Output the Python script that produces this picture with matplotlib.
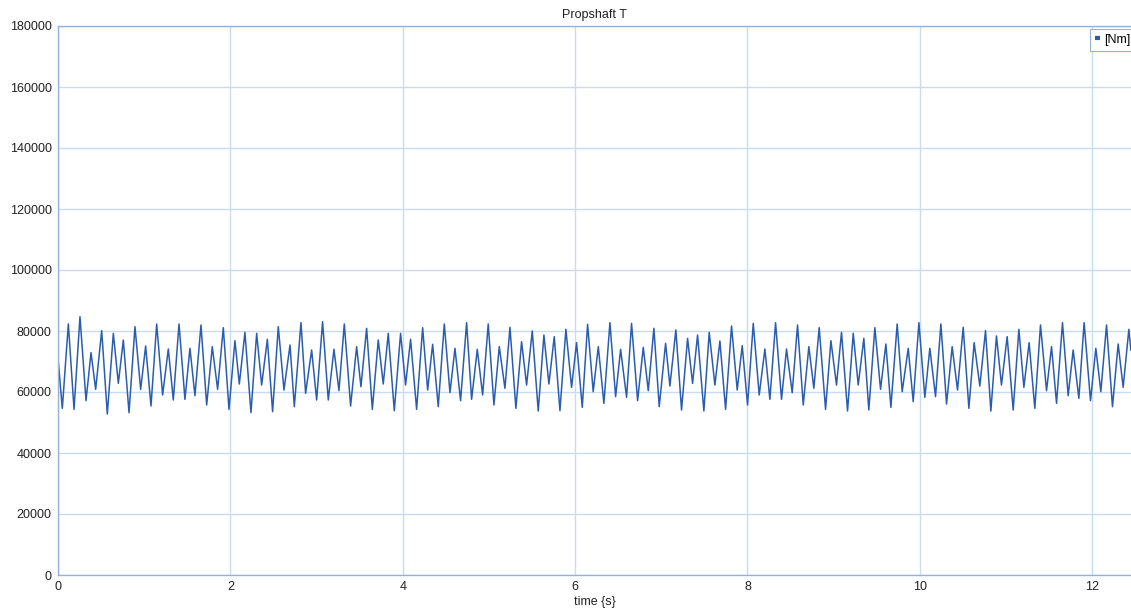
import matplotlib
matplotlib.use("Agg")
import matplotlib.pyplot as plt
from matplotlib.lines import Line2D

plt.rcParams['font.family'] = ['Liberation Sans', 'DejaVu Sans']

# Propshaft torque samples: time [s] and torque [Nm] at each turning point
time_s = [
    0.000, 0.050, 0.120, 0.186, 0.255, 0.325, 0.383, 0.437, 0.507, 0.572,
    0.642, 0.700, 0.758, 0.824, 0.893, 0.959, 1.017, 1.079, 1.145, 1.214,
    1.280, 1.338, 1.404, 1.473, 1.531, 1.589, 1.659, 1.725, 1.790, 1.852,
    1.918, 1.984, 2.053, 2.104, 2.169, 2.239, 2.305, 2.363, 2.429, 2.490,
    2.556, 2.622, 2.692, 2.742, 2.819, 2.873, 2.943, 3.001, 3.070, 3.136,
    3.202, 3.260, 3.322, 3.395,
    3.465, 3.515, 3.581, 3.647, 3.716, 3.774, 3.832, 3.902, 3.975, 4.033,
    4.091, 4.161, 4.231, 4.289, 4.347, 4.412, 4.482, 4.548, 4.606, 4.671,
    4.741, 4.799, 4.865, 4.927, 4.992, 5.058, 5.120, 5.186, 5.244, 5.313,
    5.379, 5.437, 5.503, 5.572, 5.638, 5.696, 5.758, 5.824, 5.893, 5.959,
    6.017, 6.083, 6.145, 6.210, 6.269, 6.334, 6.404, 6.470, 6.528, 6.597,
    6.655, 6.725, 6.791, 6.849, 6.914,
    6.976, 7.050, 7.100, 7.169, 7.235, 7.305, 7.363, 7.421, 7.494, 7.556,
    7.622, 7.680, 7.746, 7.815, 7.881, 7.939, 8.001, 8.067, 8.136, 8.202,
    8.260, 8.326, 8.395, 8.453, 8.519, 8.581, 8.647, 8.712, 8.770, 8.832,
    8.906, 8.968, 9.033, 9.091, 9.161, 9.227, 9.285, 9.350, 9.408, 9.478,
    9.544, 9.606, 9.664, 9.737, 9.795, 9.865, 9.923, 9.989, 10.058, 10.116,
    10.182, 10.244, 10.310, 10.375,
    10.437, 10.503, 10.569, 10.630, 10.696, 10.762, 10.824, 10.889, 10.947, 11.013,
    11.083, 11.149, 11.207, 11.268, 11.334, 11.400, 11.470, 11.528, 11.586, 11.655,
    11.721, 11.779, 11.845, 11.906, 11.980, 12.042, 12.100, 12.166, 12.235, 12.301,
    12.359, 12.425, 12.448,
]

torque_nm = [
    71040, 54640, 82300, 54310, 84700, 57160, 72900, 60870, 80110, 52780,
    79230, 62840, 77050, 53220, 81420, 60870, 75080, 55410, 82300, 59010,
    74100, 57380, 82300, 57590, 74320, 58800, 81970, 55740, 74860, 60870,
    81090, 54310, 76830, 62620, 79560, 53220, 79230, 62290, 77270, 53550,
    81420, 60650, 75410, 55190, 82730, 59560, 73770, 57380, 83060, 57380,
    73990, 60440, 82300, 55410,
    74860, 61750, 80870, 54310, 77050, 62620, 79230, 53880, 79230, 62290,
    77270, 54310, 81090, 60650, 75630, 55190, 82300, 59780, 74320, 57160,
    82730, 57590, 73990, 59010, 82300, 55740, 74860, 61200, 81200, 54640,
    76500, 62290, 80000, 53770, 78690, 62620, 78140, 53880, 80550, 61530,
    76170, 54970, 82190, 60110, 74860, 56280, 82730, 58470, 73990, 58250,
    82510, 57160, 74640, 60440, 80870,
    55190, 75950, 61960, 80330, 54100, 77590, 62840, 78690, 53770, 79560,
    62290, 76720, 54310, 81640, 60650, 75190, 55740, 82510, 59010, 74100,
    57590, 82730, 57590, 74100, 59780, 81970, 55740, 74860, 61200, 81090,
    54310, 76830, 62290, 79560, 53770, 79230, 62290, 77590, 54100, 81090,
    60870, 75740, 54970, 82300, 60110, 74320, 56830, 82730, 58250, 74320,
    58470, 82300, 56060, 74860,
    60650, 81200, 54640, 76170, 61960, 80110, 53770, 78360, 62290, 78140,
    54100, 80550, 61530, 76170, 54640, 81970, 60440, 74860, 56280, 82730,
    58800, 73770, 57920, 82730, 57160, 74320, 60110, 81970, 55190, 75740,
    61530, 80550, 73770,
]

series_label = "[Nm]"
title_text = "Propshaft T"
x_label = "time {s}"
x_ticks = [0, 2, 4, 6, 8, 10, 12]
y_ticks = [0, 20000, 40000, 60000, 80000, 100000, 120000, 140000, 160000, 180000]

line_color = "#2a5db0"
grid_color = "#c9dbef"
spine_color = "#95b3d9"

fig = plt.figure(figsize=(11.31, 6.10), dpi=100)
ax = fig.add_axes([58 / 1131, 1 - 575 / 610, 1 - 58 / 1131, (575 - 26) / 610])

ax.plot(time_s, torque_nm, color=line_color, lw=1.1, solid_joinstyle="round")

ax.set_xlim(0, 12.45)
ax.set_ylim(0, 180000)
ax.set_xticks(x_ticks)
ax.set_yticks(y_ticks)
ax.set_xticklabels([str(v) for v in x_ticks])
ax.set_yticklabels([str(v) for v in y_ticks])
ax.tick_params(axis="both", length=0, labelsize=9, colors="#222222", pad=4.5)

ax.grid(True, color=grid_color, lw=1.0)
ax.set_axisbelow(True)
for side in ("left", "bottom", "top"):
    ax.spines[side].set_color(spine_color)
    ax.spines[side].set_linewidth(1.0)
ax.spines["right"].set_visible(False)

ax.set_title(title_text, fontsize=9, color="#222222", pad=6)
ax.set_xlabel(x_label, fontsize=9, color="#222222", labelpad=2)

handle = Line2D([], [], color=line_color, lw=3, solid_capstyle="butt")
leg = ax.legend([handle], [series_label], loc="upper right", fontsize=9,
                bbox_to_anchor=(1.004, 0.995),
                handlelength=0.45, handletextpad=0.3, borderpad=0.4,
                borderaxespad=0.0, fancybox=False, framealpha=1.0,
                edgecolor=spine_color)
leg.get_frame().set_linewidth(0.8)

fig.savefig("out.png", dpi=100, facecolor="white")
